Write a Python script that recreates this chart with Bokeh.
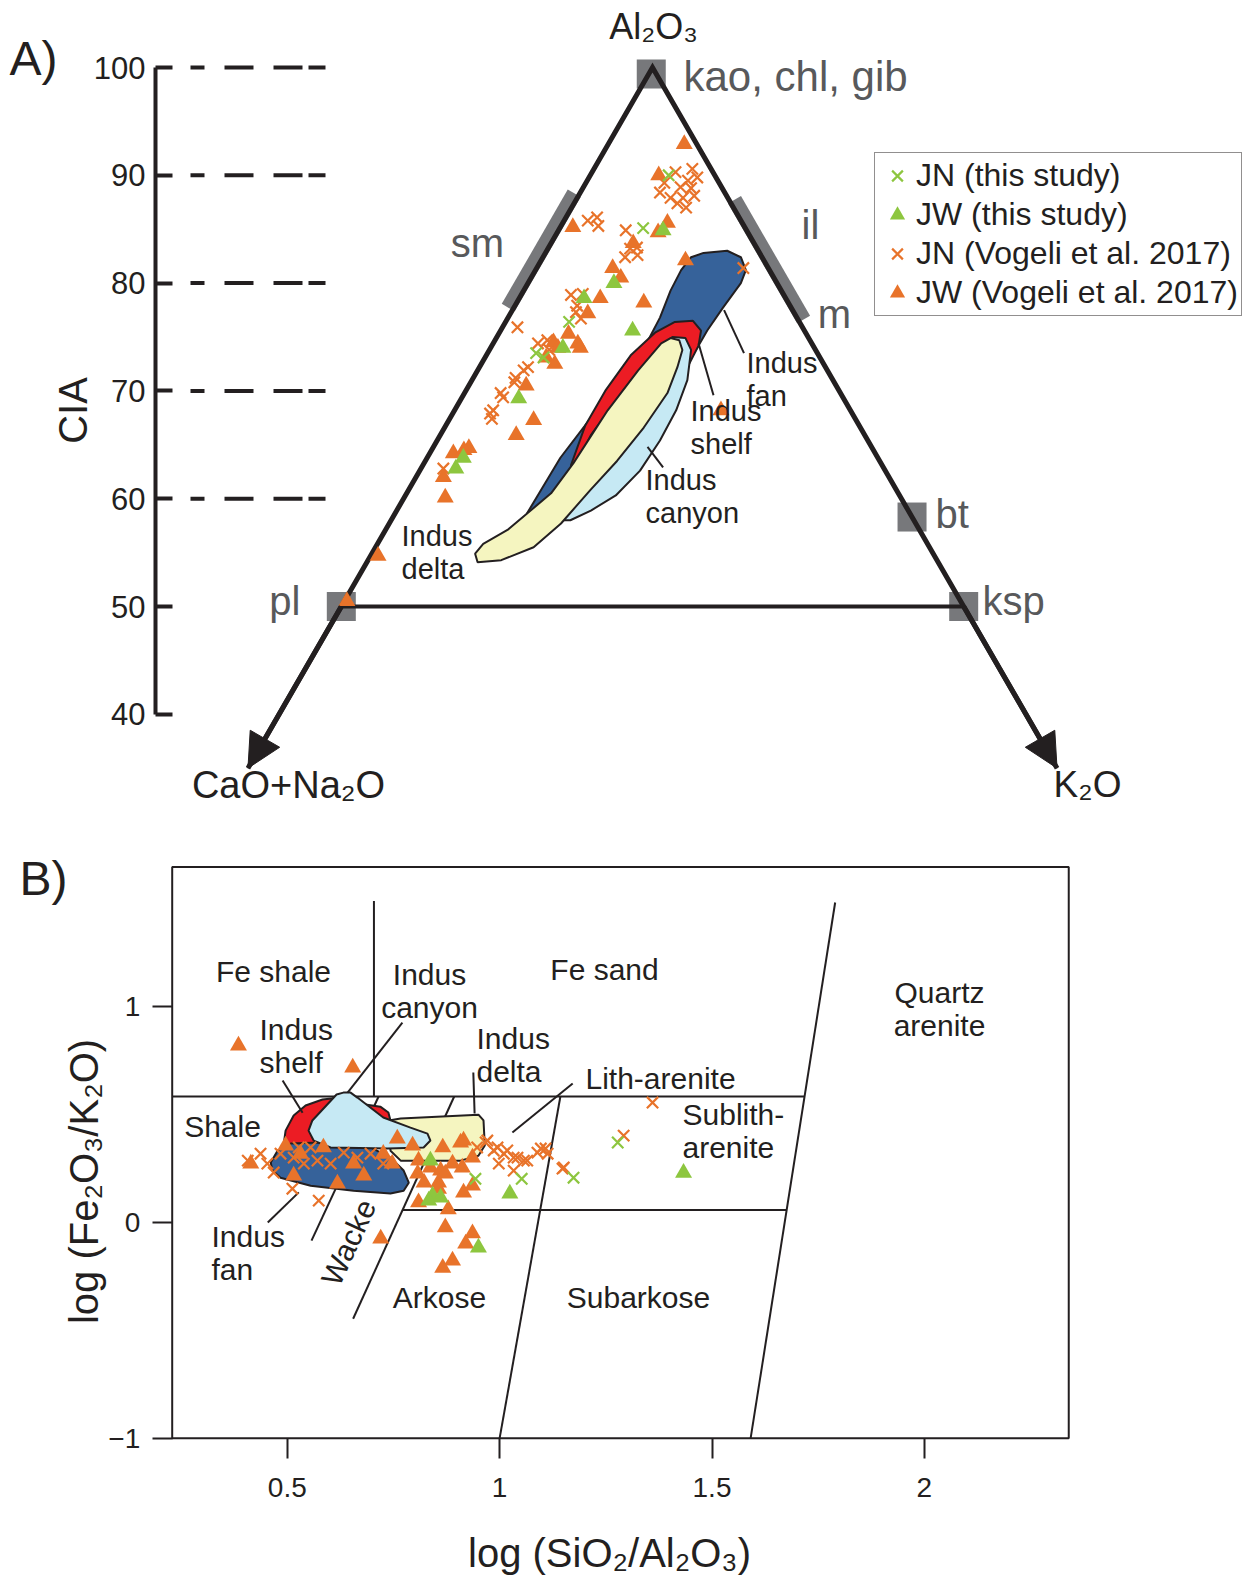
import numpy as np
from bokeh.plotting import figure
from bokeh.models import (Range1d, LinearAxis, FixedTicker, Legend, LegendItem,
                          Arrow, NormalHead, NumeralTickFormatter)
from bokeh.embed import file_html
from bokeh.resources import INLINE
from bokeh.core.properties import value

FONT = "Liberation Sans"
INK = "#231F20"
GREY = "#77787B"
GREY_TXT = "#58595B"
ORANGE = "#E8732A"
GREEN = "#8DC63F"
FAN = "#36629A"
SHELF = "#EC1C24"
CANYON = "#C6E9F4"
DELTA = "#F5F5C0"

# ---------------- Panel A data: A-CN-K space (CIA = A, K = K2O mol %) ----------------
jn_this_cia = [90.0, 85.1, 76.4, 73.5, 73.1]
jn_this_k = [6.3, 6.7, 5.1, 3.9, 4.7]

jw_this_cia = [84.9, 80.0, 78.6, 75.6, 74.0, 69.3, 63.8, 62.8]
jw_this_k = [8.4, 6.9, 5.2, 10.6, 5.8, 4.6, 2.9, 2.8]

jn_vog_cia = [90.6, 89.8, 89.5, 88.9, 88.4, 87.9, 87.9, 87.4, 88.8, 90.3, 89.3, 88.1, 87.0,
              85.8, 86.1, 85.3, 84.9, 83.3, 83.2, 82.4, 82.6, 81.4, 78.9, 79.0, 77.9, 75.9,
              74.7, 74.4, 73.8, 71.9, 71.2, 69.4, 68.2, 67.9, 67.4, 62.8, 77.3, 76.7, 72.2,
              70.8, 69.8]
jn_vog_k = [7.9, 8.7, 8.1, 7.8, 6.4, 7.5, 8.5, 8.3, 8.7, 6.7, 6.3, 9.3, 9.2,
            1.9, 2.5, 3.0, 5.4, 7.1, 6.6, 6.6, 7.5, 16.6, 4.0, 4.9, 5.0, 1.2,
            4.2, 3.6, 4.8, 3.7, 3.4, 3.3, 3.1, 3.0, 3.4, 1.8, 5.2, 5.9, 3.9,
            3.5, 2.9]

jw_vog_cia = [92.9, 90.0, 85.6, 84.7, 85.2, 83.7, 82.1, 81.4, 80.5, 78.2, 78.6, 77.2, 74.5,
              74.0, 74.4, 74.0, 73.1, 72.5, 70.5, 67.3, 65.9, 64.7, 62.0, 60.1, 54.7, 50.5,
              68.2, 64.2, 75.3, 64.5]
jw_vog_k = [6.1, 5.5, 8.4, 8.1, 1.0, 6.6, 11.6, 6.1, 7.2, 10.2, 6.5, 6.2, 4.8,
            5.4, 6.8, 7.2, 4.9, 5.9, 4.6, 6.8, 6.1, 2.9, 2.2, 3.3, 0.6, 0.2,
            21.4, 1.9, 5.6, 2.6]

# Indus sediment fields (CIA, K)
fan_cia = [58.6, 63.8, 67.5, 72.2, 74.7, 76.8, 79.3, 81.2, 82.4, 82.8, 83.0, 82.4, 81.2,
           80.0, 77.7, 75.6, 74.0, 72.8, 70.0, 67.3, 64.8, 61.7, 59.6, 58.3, 58.0, 58.3]
fan_k = [10.6, 10.7, 11.3, 11.6, 12.3, 12.2, 11.8, 11.7, 11.9, 12.7, 14.5, 15.9, 16.9,
         17.1, 16.8, 16.6, 16.6, 16.5, 17.2, 17.6, 17.5, 16.8, 15.5, 14.0, 12.8, 11.1]
shelf_cia = [63.1, 66.8, 70.0, 73.3, 75.4, 76.4, 76.5, 75.6, 74.2, 72.4, 69.1, 65.4, 61.7, 61.7]
shelf_k = [11.9, 11.2, 11.2, 11.6, 12.5, 13.6, 15.0, 16.1, 16.6, 16.7, 16.9, 16.3, 15.0, 13.0]
canyon_cia = [58.0, 62.6, 65.9, 71.0, 73.8, 75.0, 74.9, 73.8, 71.0, 68.2, 65.4, 62.6, 60.3, 58.9, 58.0]
canyon_k = [13.9, 12.3, 12.1, 12.8, 13.4, 14.1, 15.2, 16.2, 17.3, 17.8, 17.9, 17.7, 16.9, 15.6, 14.4]
delta_cia = [54.9, 54.1, 54.3, 55.5, 57.7, 60.8, 63.5, 66.6, 69.8, 72.2, 73.8, 74.7, 74.9,
             74.4, 71.9, 68.2, 63.3, 60.5, 58.6, 57.1, 55.8]
delta_k = [8.3, 8.9, 10.7, 12.7, 13.8, 14.6, 15.4, 16.0, 16.3, 15.9, 15.5, 14.8, 14.0,
           13.5, 12.9, 12.3, 12.0, 11.6, 10.6, 9.8, 8.5]

# leader lines of the field labels (CIA, K pairs)
leadA_cia = [[77.5, 73.5], [74.4, 69.6], [64.8, 62.9]]
leadA_k = [[17.0, 20.6], [16.5, 20.1], [17.2, 19.4]]

# minerals
mineral_cia = [99.4, 50.0, 50.0, 58.3]
mineral_k = [0.2, 0.0, 50.0, 41.7]
sm_cia = [77.5, 88.1]
il_cia = [76.4, 87.5]

cia_ticks = [40, 50, 60, 70, 80, 90, 100]
cia_dash = [60, 70, 80, 90, 100]

# ---------------- Panel B data: log(SiO2/Al2O3) vs log(Fe2O3/K2O) ----------------
b_xmin, b_xmax, b_ymin, b_ymax = 0.229, 2.340, -1.0, 1.645
b_xticks = [0.5, 1, 1.5, 2]
b_yticks = [-1, 0, 1]

jn_this_x = [0.943, 1.052, 1.278, 1.174]
jn_this_y = [0.201, 0.201, 0.369, 0.206]
jw_this_x = [0.837, 0.842, 0.861, 0.833, 1.024, 0.950, 1.433]
jw_this_y = [0.285, 0.123, 0.114, 0.100, 0.132, -0.117, 0.229]
jn_vog_x = [0.407, 0.437, 0.453, 0.468, 0.484, 0.515, 0.539, 0.571, 0.602, 0.555, 0.633,
            0.665, 0.696, 0.726, 0.512, 0.574, 0.527, 0.947, 0.967, 0.986, 1.010, 1.033,
            1.057, 1.089, 1.108, 1.148, 0.998, 1.033, 1.360, 1.292, 1.151, 1.097, 1.113,
            0.971, 0.995, 1.018, 1.042, 1.065]
jn_vog_y = [0.285, 0.317, 0.271, 0.230, 0.317, 0.299, 0.271, 0.285, 0.271, 0.346, 0.322,
            0.299, 0.317, 0.271, 0.155, 0.100, 0.346, 0.346, 0.369, 0.332, 0.317, 0.299,
            0.285, 0.322, 0.341, 0.248, 0.271, 0.239, 0.554, 0.401, 0.253, 0.341, 0.317,
            0.378, 0.346, 0.332, 0.299, 0.285]
jw_vog_x = [0.385, 0.654, 0.759, 0.795, 0.866, 0.908, 0.496, 0.531, 0.585, 0.414, 0.515,
            0.656, 0.680, 0.618, 0.726, 0.747, 0.809, 0.837, 0.861, 0.889, 0.807, 0.822,
            0.856, 0.856, 0.915, 0.936, 0.809, 0.879, 0.872, 0.936, 0.920, 0.889, 0.866,
            0.720, 0.915, 0.936, 0.912, 0.872]
jw_vog_y = [0.818, 0.716, 0.387, 0.355, 0.346, 0.369, 0.355, 0.317, 0.346, 0.271, 0.216,
            0.271, 0.216, 0.179, 0.317, 0.271, 0.285, 0.253, 0.239, 0.271, 0.225, 0.183,
            0.183, 0.155, 0.137, 0.169, 0.092, 0.060, -0.024, -0.052, -0.099, -0.178, -0.211,
            -0.076, 0.378, 0.299, 0.253, 0.225]

fanB_x = [0.461, 0.477, 0.508, 0.578, 0.696, 0.743, 0.774, 0.786, 0.774, 0.743, 0.656, 0.555, 0.484, 0.465]
fanB_y = [0.276, 0.331, 0.364, 0.369, 0.346, 0.299, 0.239, 0.183, 0.146, 0.133, 0.146, 0.169, 0.206, 0.239]
shelfB_x = [0.491, 0.496, 0.515, 0.543, 0.583, 0.625, 0.684, 0.719, 0.738, 0.743, 0.731, 0.602]
shelfB_y = [0.355, 0.424, 0.494, 0.540, 0.568, 0.577, 0.545, 0.535, 0.508, 0.471, 0.378, 0.341]
canyonB_x = [0.632, 0.616, 0.559, 0.550, 0.562, 0.602, 0.736, 0.821, 0.837, 0.830, 0.790, 0.726, 0.665, 0.649]
canyonB_y = [0.600, 0.591, 0.471, 0.424, 0.378, 0.346, 0.341, 0.346, 0.378, 0.410, 0.438, 0.485, 0.577, 0.600]
deltaB_x = [0.739, 0.767, 0.950, 0.962, 0.965, 0.950, 0.908, 0.767, 0.743]
deltaB_y = [0.471, 0.480, 0.498, 0.471, 0.355, 0.308, 0.285, 0.285, 0.331]

# Herron (1988) classification boundaries
herron_xs = [[0.229, 1.718], [0.771, 1.676], [0.704, 0.704], [0.557, 0.715],
             [0.655, 0.893], [1.000, 1.143], [1.591, 1.790]]
herron_ys = [[0.582, 0.582], [0.056, 0.056], [0.582, 1.487], [-0.085, 0.582],
             [-0.447, 0.582], [-1.0, 0.582], [-1.0, 1.48]]
leadB_xs = [[0.454, 0.527], [0.489, 0.536], [0.642, 0.771], [0.938, 0.941], [1.030, 1.172]]
leadB_ys = [[-0.001, 0.138], [0.656, 0.507], [0.600, 0.924], [0.693, 0.503], [0.415, 0.642]]

S3 = np.sqrt(3.0)


def tern(cia, k):
    c = np.asarray(cia, dtype=float)
    kk = np.asarray(k, dtype=float)
    return (2.0 * kk + c - 100.0) / S3, c


# ======================= single canvas =======================
W, H = 1253, 1583
PX = 10.78      # px per CIA unit (panel A)
AX0 = 652.0     # apex pixel x
AY0 = 67.0      # CIA 100 pixel y
BX_PX, BX0 = 424.7, 286.8    # panel B: px per unit, px of x=0.5
BY_PX, BY0 = 216.0, 1221.7   # panel B: px per unit, px of y=0

p = figure(width=W, height=H,
           x_range=Range1d(-AX0 / PX, (W - AX0) / PX),
           y_range=Range1d(100 - (H - AY0) / PX, 100 + AY0 / PX),
           x_axis_type=None, y_axis_type=None,
           output_backend="svg", toolbar_location=None,
           min_border=0, outline_line_color=None)
p.extra_x_ranges = {"bx": Range1d(0.5 - BX0 / BX_PX, 0.5 + (W - BX0) / BX_PX)}
p.extra_y_ranges = {"by": Range1d((BY0 - H) / BY_PX, BY0 / BY_PX)}
B = dict(x_range_name="bx", y_range_name="by")


def px2a(px, py):
    return (px - AX0) / PX, 100 - (py - AY0) / PX


def px2b(px, py):
    return 0.5 + (px - BX0) / BX_PX, (BY0 - py) / BY_PX


def style_axis(ax, lab_size, tick_w):
    ax.major_tick_line_width = tick_w
    ax.major_tick_line_color = INK
    ax.minor_tick_line_color = None
    ax.major_label_text_font = FONT
    ax.major_label_text_font_size = lab_size
    ax.major_label_text_color = INK
    ax.axis_label_text_font = FONT
    ax.axis_label_text_font_size = "40px"
    ax.axis_label_text_font_style = "normal"
    ax.axis_label_text_color = INK


# ---------- Panel A ----------
ax_x, _ = px2a(155, 0)
cia_axis = LinearAxis(fixed_location=ax_x, bounds=(min(cia_ticks), max(cia_ticks)),
                      ticker=FixedTicker(ticks=cia_ticks))
style_axis(cia_axis, "31px", 4)
cia_axis.axis_line_width = 4
cia_axis.axis_line_color = INK
cia_axis.major_tick_in = 17
cia_axis.major_tick_out = 0
cia_axis.major_label_standoff = 10
p.add_layout(cia_axis, "left")

cx, cy = px2a(72, 410)
p.text(x=[cx], y=[cy], text=["CIA"], text_font=value(FONT), text_font_size="40px",
       text_align="center", text_baseline="middle", text_color=INK, angle=np.pi / 2)

dx0 = (190 - AX0) / PX
dx1 = (328 - AX0) / PX
p.multi_line(xs=[[dx0, dx1] for _ in cia_dash], ys=[[c, c] for c in cia_dash],
             line_color=INK, line_width=4, line_dash="14 20 29 20 29 6 17")

smx, smy = tern(sm_cia, [0, 0])
ilx, ily = tern(il_cia, [100 - c for c in il_cia])
off = 0.45
p.line(smx - off * S3 / 2, smy + off * 0.5, line_color=GREY, line_width=15)
p.line(ilx + off * S3 / 2, ily + off * 0.5, line_color=GREY, line_width=15)

mx, my = tern(mineral_cia, mineral_k)
p.scatter(mx, my, marker="square", size=29, fill_color=GREY, line_color=None)

apx, apy = tern([100], [0])
ltx, lty = tern([35], [0])
rtx, rty = tern([35], [65])
plx, ply = tern([50], [0])
ksx, ksy = tern([50], [50])
p.line([ltx[0], apx[0], rtx[0]], [lty[0], apy[0], rty[0]], line_color=INK,
       line_width=5, line_join="miter")
p.line([plx[0], ksx[0]], [50, 50], line_color=INK, line_width=4)
for (x0, y0, x1, y1) in [(plx[0], 50, ltx[0], 35), (ksx[0], 50, rtx[0], 35)]:
    p.add_layout(Arrow(end=NormalHead(size=34, fill_color=INK, line_color=INK, line_width=1),
                       x_start=x0, y_start=y0, x_end=x1, y_end=y1,
                       line_color=INK, line_width=5))

for (c, k, col) in [(fan_cia, fan_k, FAN), (shelf_cia, shelf_k, SHELF),
                    (canyon_cia, canyon_k, CANYON), (delta_cia, delta_k, DELTA)]:
    fx, fy = tern(c, k)
    p.patch(fx, fy, fill_color=col, line_color=INK, line_width=2)

lxs, lys = [], []
for c, k in zip(leadA_cia, leadA_k):
    a, b = tern(c, k)
    lxs.append(list(a))
    lys.append(list(b))
p.multi_line(xs=lxs, ys=lys, line_color=INK, line_width=2)

x, y = tern(jn_vog_cia, jn_vog_k)
r_jn_vog = p.scatter(x, y, marker="x", size=16, line_color=ORANGE, line_width=2.2)
x, y = tern(jw_vog_cia, jw_vog_k)
r_jw_vog = p.scatter(x, y, marker="triangle", size=17, fill_color=ORANGE, line_color=None)
x, y = tern(jn_this_cia, jn_this_k)
r_jn_this = p.scatter(x, y, marker="x", size=16, line_color=GREEN, line_width=2.2)
x, y = tern(jw_this_cia, jw_this_k)
r_jw_this = p.scatter(x, y, marker="triangle", size=17, fill_color=GREEN, line_color=None)


def textA(px, py, s, size, align="left", color=INK):
    xx, yy = px2a(px, py)
    p.text(x=[xx], y=[yy], text=[s], text_font=value(FONT), text_font_size=size,
           text_align=align, text_baseline="middle", text_color=color,
           text_line_height=1.05)


textA(9, 58, "A)", "48px")
textA(653, 26, "Al₂O₃", "36px", align="center")
textA(288, 784, "CaO+Na₂O", "38px", align="center")
textA(1087, 784, "K₂O", "37px", align="center")
textA(683, 76, "kao, chl, gib", "42px", color=GREY_TXT)
textA(477, 242, "sm", "40px", align="center", color=GREY_TXT)
textA(810, 224, "il", "40px", align="center", color=GREY_TXT)
textA(834, 313, "m", "40px", align="center", color=GREY_TXT)
textA(935, 513, "bt", "40px", color=GREY_TXT)
textA(982, 600, "ksp", "40px", color=GREY_TXT)
textA(300, 600, "pl", "40px", align="right", color=GREY_TXT)
textA(746, 379, "Indus\nfan", "29px")
textA(690, 427, "Indus\nshelf", "29px")
textA(645, 496, "Indus\ncanyon", "29px")
textA(401, 552, "Indus\ndelta", "29px")

legend = Legend(items=[LegendItem(label="JN (this study)", renderers=[r_jn_this]),
                       LegendItem(label="JW (this study)", renderers=[r_jw_this]),
                       LegendItem(label="JN (Vogeli et al. 2017)", renderers=[r_jn_vog]),
                       LegendItem(label="JW (Vogeli et al. 2017)", renderers=[r_jw_vog])],
                location=(874, H - 316))
legend.label_text_font = FONT
legend.label_text_font_size = "32px"
legend.label_text_color = INK
legend.label_height = 39
legend.glyph_height = 39
legend.glyph_width = 38
legend.label_standoff = 0
legend.spacing = 0
legend.padding = 3
legend.margin = 0
legend.border_line_color = INK
legend.border_line_width = 1.5
legend.background_fill_color = "white"
legend.background_fill_alpha = 1.0
p.add_layout(legend)

# ---------- Panel B ----------
xB = LinearAxis(fixed_location=b_ymin, bounds=(b_xmin, 2.288),
                ticker=FixedTicker(ticks=b_xticks),
                formatter=NumeralTickFormatter(format="0.[0]"),
                axis_label="log (SiO₂/Al₂O₃)", **B)
style_axis(xB, "28px", 2)
xB.axis_line_color = None
xB.major_tick_out = 20
xB.major_tick_in = 0
xB.major_label_standoff = 20
xB.axis_label_standoff = 30
p.add_layout(xB, "below")

yB = LinearAxis(fixed_location=b_xmin, bounds=(b_ymin, 1.377),
                ticker=FixedTicker(ticks=b_yticks),
                axis_label="log (Fe₂O₃/K₂O)", **B)
style_axis(yB, "28px", 2)
yB.axis_line_color = None
yB.major_tick_out = 20
yB.major_tick_in = 0
yB.major_label_standoff = 12
yB.axis_label_standoff = 0
p.add_layout(yB, "left")

p.quad(left=[b_xmin], right=[b_xmax], bottom=[b_ymin], top=[b_ymax],
       fill_color=None, line_color=INK, line_width=2, **B)

p.multi_line(xs=herron_xs, ys=herron_ys, line_color=INK, line_width=2, **B)

for (fx, fy, col) in [(deltaB_x, deltaB_y, DELTA), (shelfB_x, shelfB_y, SHELF),
                      (fanB_x, fanB_y, FAN), (canyonB_x, canyonB_y, CANYON)]:
    p.patch(fx, fy, fill_color=col, line_color=INK, line_width=2, **B)

p.multi_line(xs=leadB_xs, ys=leadB_ys, line_color=INK, line_width=2, **B)

p.scatter(jn_vog_x, jn_vog_y, marker="x", size=16, line_color=ORANGE, line_width=2.2, **B)
p.scatter(jw_vog_x, jw_vog_y, marker="triangle", size=17, fill_color=ORANGE, line_color=None, **B)
p.scatter(jn_this_x, jn_this_y, marker="x", size=16, line_color=GREEN, line_width=2.2, **B)
p.scatter(jw_this_x, jw_this_y, marker="triangle", size=17, fill_color=GREEN, line_color=None, **B)


def textB(px, py, s, size="30px", align="left", angle=0.0):
    xx, yy = px2b(px, py)
    p.text(x=[xx], y=[yy], text=[s], text_font=value(FONT), text_font_size=size,
           text_align=align, text_baseline="middle", text_color=INK,
           text_line_height=1.0, angle=angle, **B)


textB(19, 878, "B)", size="48px")
textB(273, 971, "Fe shale", align="center")
textB(604, 969, "Fe sand", align="center")
textB(939, 1008, "Quartz\narenite", align="center")
textB(222, 1126, "Shale", align="center")
textB(682, 1130, "Sublith-\narenite")
textB(585, 1078, "Lith-arenite")
textB(439, 1297, "Arkose", align="center")
textB(638, 1297, "Subarkose", align="center")
textB(348, 1242, "Wacke", align="center", angle=np.deg2rad(65.5))
textB(259, 1045, "Indus\nshelf")
textB(429, 990, "Indus\ncanyon", align="center")
textB(476, 1054, "Indus\ndelta")
textB(211, 1252, "Indus\nfan")

open("out.html", "w").write(file_html(p, INLINE))
